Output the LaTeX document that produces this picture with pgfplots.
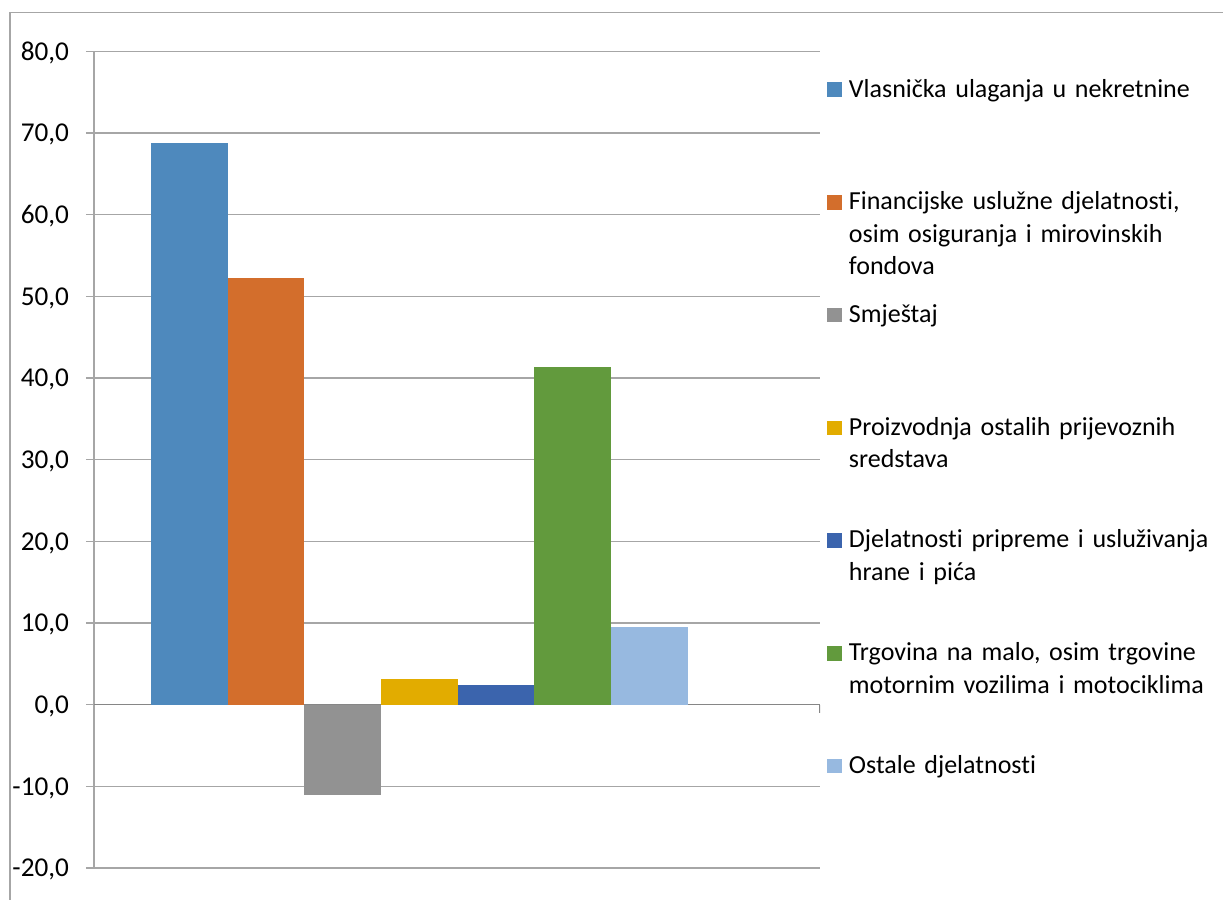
\documentclass[border=0pt]{standalone}
\usepackage{fontspec}
\setmainfont{Carlito}[Ligatures=NoCommon]
\usepackage{pgfplots}
\pgfplotsset{compat=1.18}

\definecolor{cA}{HTML}{4E89BD}
\definecolor{cB}{HTML}{D36E2C}
\definecolor{cC}{HTML}{929292}
\definecolor{cD}{HTML}{E2AC00}
\definecolor{cE}{HTML}{3B64AD}
\definecolor{cF}{HTML}{629A3D}
\definecolor{cG}{HTML}{97B9E0}
\definecolor{gridgray}{HTML}{A6A6A6}
\definecolor{axisgray}{HTML}{868686}

\begin{document}
\fontsize{13}{16.25}\selectfont
\begin{tikzpicture}
\useasboundingbox (0,0) rectangle (611.5pt,450pt);
% chart area frame (left and top edges only are visible)
\draw[gridgray, line width=0.6pt] (5pt,0) -- (5pt,443.8pt) -- (611.5pt,443.8pt);
\begin{axis}[
    at={(47pt,16pt)}, anchor=south west,
    scale only axis, width=363pt, height=408.3pt,
    xmin=-0.2425, xmax=9.223, ymin=-20, ymax=80,
    axis x line=none, xtick=\empty,
    axis y line*=left,
    y axis line style={gridgray, line width=0.6pt},
    ytick={-20,-10,...,80},
    yticklabels={{-20,0},{-10,0},{0,0},{10,0},{20,0},{30,0},{40,0},{50,0},{60,0},{70,0},{80,0}},
    yticklabel style={font=\fontsize{13.6}{16.5}\selectfont, text depth=0pt, xshift=-4pt},
    ymajorgrids, grid style={gridgray, line width=0.6pt},
    tick align=outside, major tick length=4pt,
    tick style={gridgray, line width=0.6pt},
    extra y ticks={0}, extra y tick labels={},
    extra y tick style={grid style={axisgray, line width=0.7pt}, major tick length=0pt},
    legend image code/.code={\fill[#1] (0pt,0pt) rectangle (7.3pt,7.3pt);},
    legend style={at={(1.0101,0.9735)}, anchor=north west,
        draw=none, fill=none, inner sep=0pt, outer sep=0pt,
        row sep=0pt, column sep=3.5pt,
        font=\fontsize{13}{16.25}\selectfont,
        cells={anchor=base west},
        nodes={inner sep=0pt, text height=12pt, text depth=44.35pt,
               text width=200pt, align=left}},
]
\addplot[ybar, bar width=1, fill=cA, draw=none] coordinates {(1,68.8)};
\addlegendentry{Vlasnička ulaganja u nekretnine}
\addplot[ybar, bar width=1, fill=cB, draw=none] coordinates {(2,52.2)};
\addlegendentry{Financijske uslužne djelatnosti,\\osim osiguranja i mirovinskih\\fondova}
\addplot[ybar, bar width=1, fill=cC, draw=none] coordinates {(3,-11.0)};
\addlegendentry{Smještaj}
\addplot[ybar, bar width=1, fill=cD, draw=none] coordinates {(4,3.1)};
\addlegendentry{Proizvodnja ostalih prijevoznih\\sredstava}
\addplot[ybar, bar width=1, fill=cE, draw=none] coordinates {(5,2.4)};
\addlegendentry{Djelatnosti pripreme i usluživanja\\hrane i pića}
\addplot[ybar, bar width=1, fill=cF, draw=none] coordinates {(6,41.3)};
\addlegendentry{Trgovina na malo, osim trgovine\\motornim vozilima i motociklima}
\addplot[ybar, bar width=1, fill=cG, draw=none] coordinates {(7,9.5)};
\addlegendentry{Ostale djelatnosti}
\draw[axisgray, line width=0.6pt] (axis cs:9.223,0) -- ++(0pt,-4pt);
\end{axis}
\end{tikzpicture}
\end{document}
